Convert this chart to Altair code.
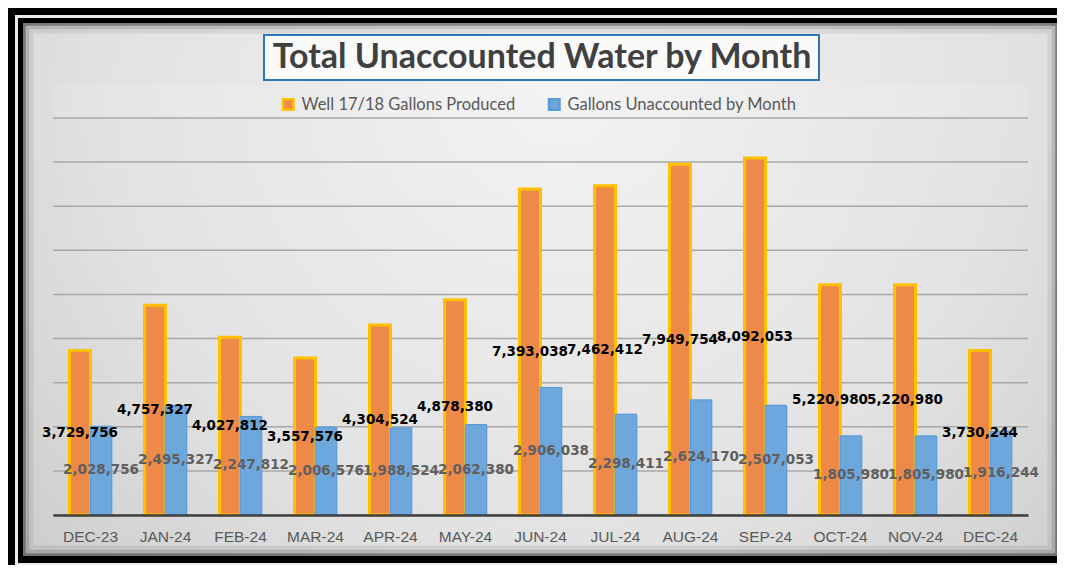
import altair as alt
import pandas as pd

# ---------------- data ----------------
months = ["DEC-23", "JAN-24", "FEB-24", "MAR-24", "APR-24", "MAY-24", "JUN-24",
          "JUL-24", "AUG-24", "SEP-24", "OCT-24", "NOV-24", "DEC-24"]
produced = [3729756, 4757327, 4027812, 3557576, 4304524, 4878380, 7393038,
            7462412, 7949754, 8092053, 5220980, 5220980, 3730244]
unaccounted = [2028756, 2495327, 2247812, 2006576, 1988524, 2062380, 2906038,
               2298411, 2624170, 2507053, 1805980, 1805980, 1916244]
series_names = ["Well 17/18 Gallons Produced", "Gallons Unaccounted by Month"]
grid_values = [0, 1000000, 2000000, 3000000, 4000000, 5000000, 6000000,
               7000000, 8000000, 9000000]
title_text = "Total Unaccounted Water by Month"

rows = []
for m, p, u in zip(months, produced, unaccounted):
    rows.append({"month": m, "series": series_names[0], "value": p})
    rows.append({"month": m, "series": series_names[1], "value": u})
df = pd.DataFrame(rows)
grid_df = pd.DataFrame({"v": grid_values})
one = pd.DataFrame({"k": [0]})
title_df = pd.DataFrame({"t": [title_text]})

W, H = 975, 397

yscale = alt.Scale(domain=[0, 9000000], nice=False, zero=True)
x_enc = alt.X(
    "month:N", sort=months,
    scale=alt.Scale(paddingInner=0.4, paddingOuter=0.2),
    axis=alt.Axis(title=None, labelAngle=0, ticks=False, grid=False,
                  domainColor="#3f3f3f", domainWidth=2.5,
                  labelFont="Liberation Sans", labelFontSize=15.5,
                  labelColor="#595959", labelPadding=14, zindex=1),
)
fill_enc = alt.Fill("series:N",
                    scale=alt.Scale(domain=series_names, range=["#ed8a48", "#6ea7db"]),
                    legend=alt.Legend(title=None))
stroke_enc = alt.Stroke("series:N",
                        scale=alt.Scale(domain=series_names, range=["#ffc000", "#5b9bd5"]),
                        legend=alt.Legend(title=None))

# ---------------- decorations ----------------
def box(x, x2, y, y2, **kw):
    return alt.Chart(one).mark_rect(**kw).encode(
        x=alt.value(x), x2=alt.value(x2), y=alt.value(y), y2=alt.value(y2))

light_frame = box(-38, 1015, -103, 447, fill="#ececec")
black_frame = box(-35, 1015, -100, 445, fill="#000000")
grad = alt.RadialGradient(
    gradient="radial",
    stops=[alt.GradientStop(offset=0, color="#f3f3f3"),
           alt.GradientStop(offset=0.55, color="#e2e2e2"),
           alt.GradientStop(offset=1, color="#c4c4c4")],
    x1=0.52, y1=0.3, r1=0, x2=0.52, y2=0.3, r2=0.8)
panel = box(-30, 1005, -95, 438, fill=grad)
shadow1 = box(-29, 1004, -94, 437, filled=False, stroke="#000000", strokeOpacity=0.45, strokeWidth=3)
shadow2 = box(-26, 1001, -91, 434, filled=False, stroke="#000000", strokeOpacity=0.18, strokeWidth=4)
shadow3 = box(-22, 997, -87, 430, filled=False, stroke="#000000", strokeOpacity=0.07, strokeWidth=5)
legend_band = box(0, W, -33, 0, fill="#ffffff", opacity=0.12)
title_box = box(211, 766, -83, -38, fill="#fafafa", stroke="#2e75b6", strokeWidth=2)
title_mark = alt.Chart(title_df).mark_text(
    font="Lato", fontWeight="bold", fontSize=34, color="#404040",
    align="center", baseline="middle").encode(
    text="t:N", x=alt.value(489), y=alt.value(-60))

gridlines = alt.Chart(grid_df).mark_rule(color="#a8a8a8", strokeWidth=1.5).encode(
    y=alt.Y("v:Q", scale=yscale, axis=None))

# ---------------- bars & labels ----------------
base = alt.Chart(df)
bar_prod = base.transform_filter(alt.datum.series == series_names[0]).mark_bar(
    width=21, xOffset=-10.5, strokeWidth=3).encode(
    x=x_enc, y=alt.Y("value:Q", scale=yscale, axis=None), fill=fill_enc, stroke=stroke_enc)
bar_unac = base.transform_filter(alt.datum.series == series_names[1]).mark_bar(
    width=23, xOffset=10.5, strokeWidth=2.5, cornerRadiusTopLeft=2,
    cornerRadiusTopRight=2).encode(
    x=x_enc, y=alt.Y("value:Q", scale=yscale, axis=None), fill=fill_enc, stroke=stroke_enc)

lab_prod = base.transform_filter(alt.datum.series == series_names[0]).transform_calculate(
    half="datum.value / 2").mark_text(
    font="DejaVu Sans", fontWeight="bold", fontSize=13.5, color="#000000",
    xOffset=-10.5, baseline="middle").encode(
    x=x_enc, y=alt.Y("half:Q", scale=yscale, axis=None),
    text=alt.Text("value:Q", format=","))
lab_unac = base.transform_filter(alt.datum.series == series_names[1]).transform_calculate(
    half="datum.value / 2").mark_text(
    font="DejaVu Sans", fontWeight="bold", fontSize=13.5, color="#5f5f5f",
    xOffset=10.5, baseline="middle").encode(
    x=x_enc, y=alt.Y("half:Q", scale=yscale, axis=None),
    text=alt.Text("value:Q", format=","))

chart = alt.layer(
    light_frame, black_frame, panel, shadow1, shadow2, shadow3, legend_band,
    title_box, title_mark, gridlines, bar_prod, bar_unac, lab_prod, lab_unac
).properties(
    width=W, height=H,
    autosize=alt.AutoSizeParams(type="none"),
    padding={"left": 45, "top": 110, "right": 29, "bottom": 50},
).configure(
    background="#000000",
).configure_view(
    stroke=None,
).configure_legend(
    orient="none", legendX=227, legendY=-22, direction="horizontal",
    symbolType="square", symbolSize=110, symbolStrokeWidth=2.5, symbolOpacity=1,
    labelFont="Lato", labelFontSize=16.5, labelColor="#595959", labelLimit=400,
    labelOffset=5, columnPadding=28,
)

chart.save("out.html", embed_options={"renderer": "svg", "actions": False})
